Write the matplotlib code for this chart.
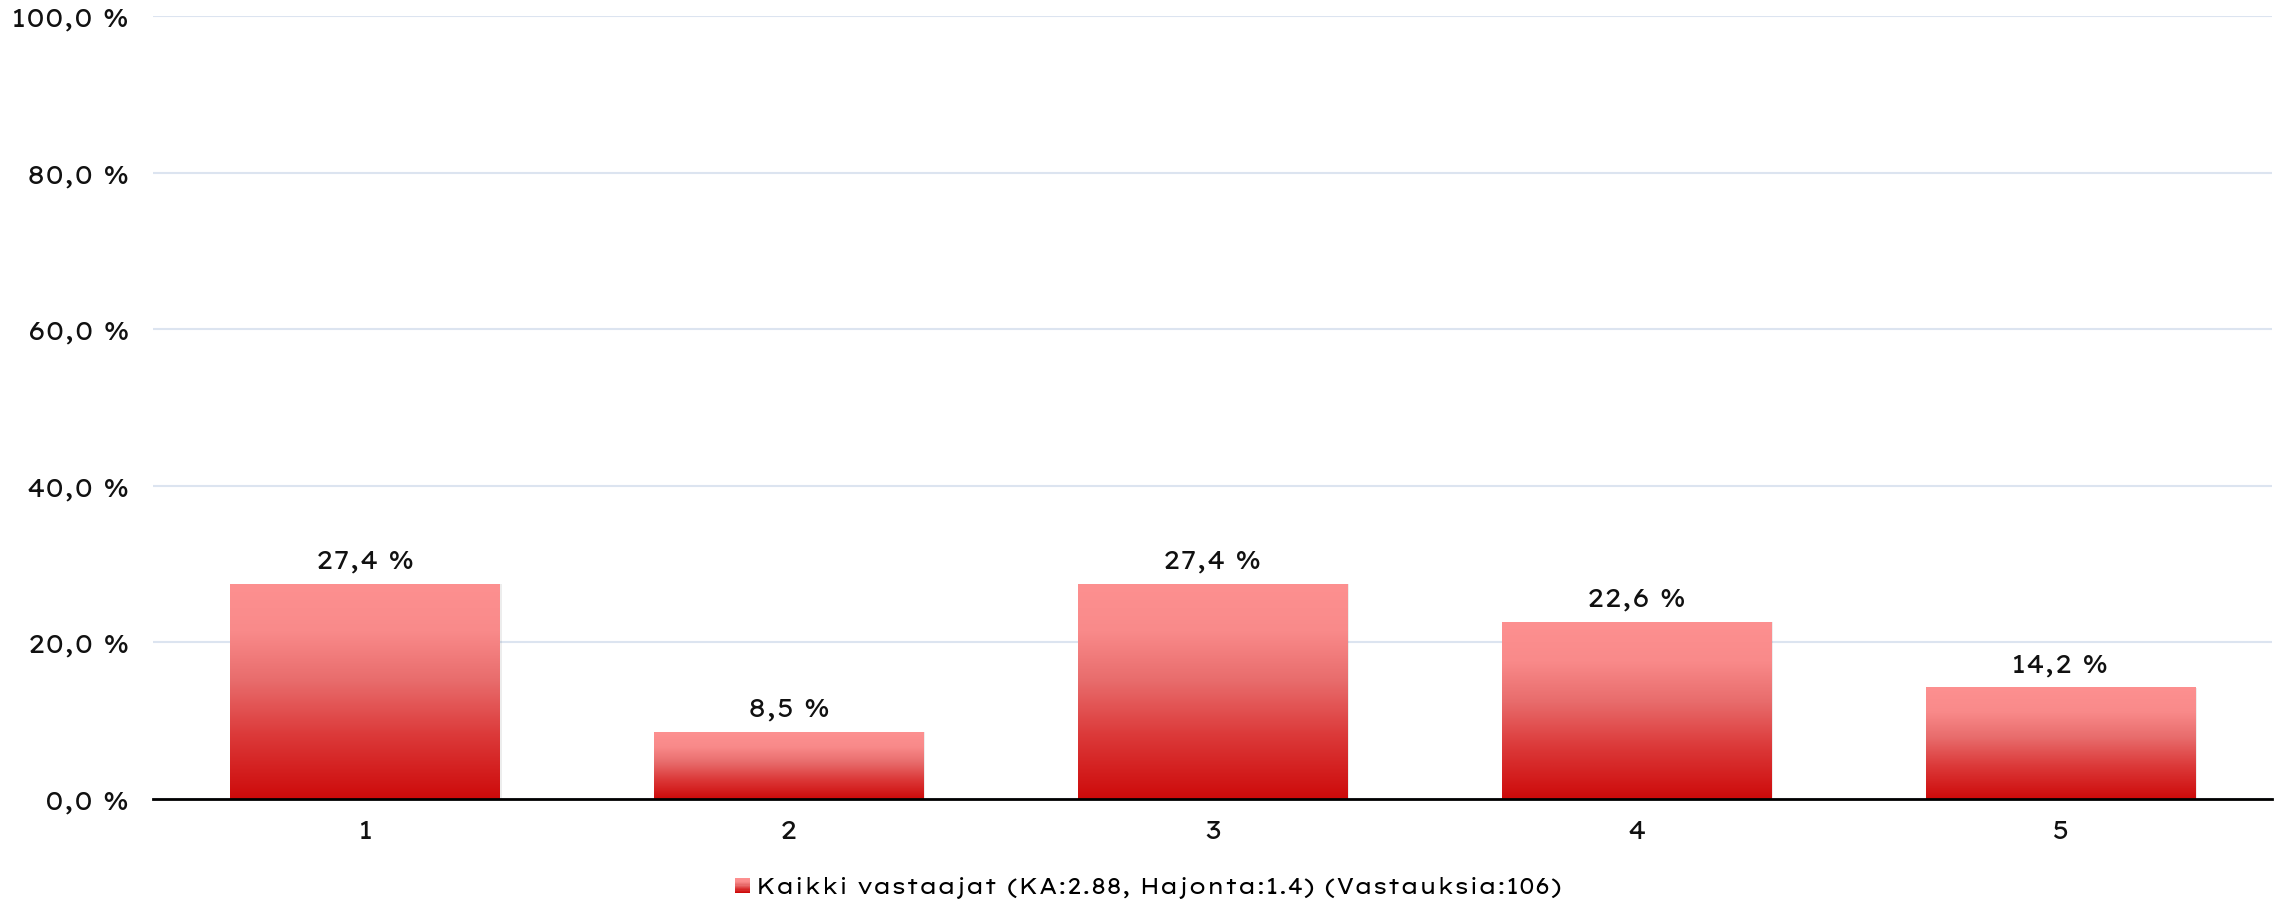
import matplotlib
matplotlib.use("Agg")
import matplotlib.pyplot as plt
import numpy as np
from matplotlib.colors import LinearSegmentedColormap
from matplotlib.patches import Rectangle
from matplotlib.ticker import FixedLocator
from matplotlib.legend_handler import HandlerBase

categories = ["1", "2", "3", "4", "5"]
values = [27.4, 8.5, 27.4, 22.6, 14.2]
value_labels = ["27,4 %", "8,5 %", "27,4 %", "22,6 %", "14,2 %"]
yticks = [0, 20, 40, 60, 80, 100]
ytick_labels = ["0,0 %", "20,0 %", "40,0 %", "60,0 %", "80,0 %", "100,0 %"]
legend_label = "Kaikki vastaajat (KA:2.88, Hajonta:1.4) (Vastauksia:106)"

TICK_FONT = ['Lexend Giga', 'Liberation Sans', 'DejaVu Sans']
LEG_FONT = ['Lexend Mega', 'Liberation Sans', 'DejaVu Sans']
plt.rcParams['font.family'] = TICK_FONT

fig = plt.figure(figsize=(22.8, 9.03), dpi=100)
ax = fig.add_axes([0.0671, 0.1141, 0.9294, 0.8671])

stops = [(0.0, "#cd0a0a"), (0.3, "#dc3a3a"), (0.55, "#e86c6c"), (0.78, "#f98a8a"), (1.0, "#fd9090")]
cmap = LinearSegmentedColormap.from_list("redgrad", stops)

x = np.arange(len(categories))
width = 0.635
bars = ax.bar(x, values, width=width, color="none", edgecolor="none", zorder=3)
grad = np.linspace(0, 1, 256).reshape(-1, 1)
for b in bars:
    x0, y0 = b.get_x(), b.get_y()
    w, h = b.get_width(), b.get_height()
    ax.add_patch(Rectangle((x0 + 0.005, y0), w, h, facecolor="#000000", alpha=0.07,
                           edgecolor="none", zorder=2))
    ax.imshow(grad, extent=[x0, x0 + w, y0, y0 + h], origin="lower", cmap=cmap,
              aspect="auto", zorder=3, interpolation="bicubic")

for xi, v, lab in zip(x, values, value_labels):
    ax.annotate(lab, (xi, v), xytext=(0, 12), textcoords="offset points",
                ha="center", va="baseline", fontsize=18.5, color="#111111")

ax.set_xlim(-0.5, len(categories) - 0.5)
ax.set_ylim(0, 100)
ax.yaxis.set_major_locator(FixedLocator(yticks))
ax.set_yticklabels(ytick_labels)
ax.set_xticks(x)
ax.set_xticklabels(categories)
ax.tick_params(axis="both", length=0, labelsize=18.5, colors="#111111")
ax.tick_params(axis="y", pad=17)
ax.tick_params(axis="x", pad=14.5)
for s in ["top", "right", "left"]:
    ax.spines[s].set_visible(False)
ax.spines["bottom"].set_color("#000000")
ax.spines["bottom"].set_linewidth(2)
ax.spines["bottom"].set_zorder(5)
ax.grid(axis="y", color="#dce4f0", linewidth=1.5, zorder=0)
ax.set_axisbelow(True)


class GradientHandler(HandlerBase):
    def create_artists(self, legend, orig_handle, xdescent, ydescent, width, height,
                       fontsize, trans):
        n = 12
        arts = []
        for i in range(n):
            r = Rectangle((-xdescent, -ydescent + height * i / n), width, height / n + 0.3,
                          facecolor=cmap(i / (n - 1)), edgecolor="none", transform=trans)
            arts.append(r)
        return arts


handle = Rectangle((0, 0), 1, 1, facecolor="#e04848", edgecolor="none")
fig.legend([handle], [legend_label], loc="center", bbox_to_anchor=(0.5037, 0.0165),
           frameon=False, handlelength=0.7, handleheight=0.7, handletextpad=0.28,
           borderpad=0, handler_map={Rectangle: GradientHandler()},
           prop={'family': LEG_FONT, 'size': 15.4})

fig.savefig("out.png", dpi=100)
